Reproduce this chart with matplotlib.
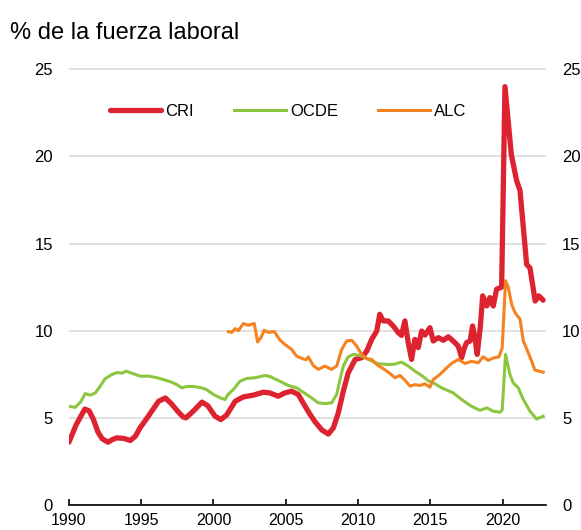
import matplotlib
matplotlib.use('Agg')
import matplotlib.pyplot as plt

# Tasa de desempleo, % de la fuerza laboral
cri_years = [1990.0, 1990.5, 1991.1, 1991.4, 1991.7, 1992.0, 1992.3, 1992.7, 1993.0, 1993.3,
             1993.8, 1994.25, 1994.6, 1994.9, 1995.5, 1996.2, 1996.67, 1997.1, 1997.5, 1997.9,
             1998.1, 1998.6, 1999.2, 1999.6, 2000.1, 2000.5, 2000.9, 2001.5, 2002.06, 2002.75,
             2003.45, 2003.9, 2004.48, 2004.94, 2005.4, 2005.86, 2006.2, 2006.6, 2007.0, 2007.5,
             2007.94, 2008.29, 2008.63, 2008.98, 2009.32, 2009.8, 2010.25, 2010.6, 2010.94, 2011.29,
             2011.5, 2011.74, 2012.09, 2012.43, 2012.78, 2013.0, 2013.24, 2013.47, 2013.7, 2013.93,
             2014.16, 2014.4, 2014.63, 2014.97, 2015.2, 2015.55, 2015.9, 2016.24, 2016.58, 2016.93,
             2017.16, 2017.35, 2017.5, 2017.75, 2017.92, 2018.1, 2018.24, 2018.46, 2018.62, 2018.9,
             2019.12, 2019.35, 2019.58, 2019.93, 2020.16, 2020.6, 2020.97, 2021.2, 2021.66, 2021.89,
             2022.25, 2022.5, 2022.8]
cri_values = [3.6, 4.6, 5.5, 5.4, 4.9, 4.2, 3.8, 3.6, 3.75, 3.85,
              3.82, 3.7, 3.95, 4.4, 5.1, 5.95, 6.14, 5.8, 5.4, 5.05,
              5.0, 5.38, 5.9, 5.7, 5.1, 4.9, 5.15, 5.95, 6.2, 6.3,
              6.47, 6.43, 6.24, 6.43, 6.53, 6.34, 5.86, 5.3, 4.8, 4.3,
              4.07, 4.42, 5.28, 6.53, 7.58, 8.35, 8.45, 8.83, 9.5, 9.98,
              10.94, 10.56, 10.56, 10.27, 9.89, 9.73, 10.56, 9.31, 8.35, 9.5,
              9.03, 9.98, 9.75, 10.17, 9.41, 9.6, 9.45, 9.65, 9.41, 9.12,
              8.45, 9.0, 9.31, 9.41, 10.27, 9.5, 8.64, 10.27, 12.0, 11.42,
              11.9, 11.42, 12.38, 12.5, 24.0, 20.1, 18.6, 18.05, 13.8, 13.6,
              11.7, 12.0, 11.75]

ocde_years = [1990.0, 1990.44, 1990.8, 1991.13, 1991.5, 1991.83, 1992.17, 1992.5, 1992.98, 1993.33,
              1993.67, 1993.95, 1994.36, 1994.94, 1995.52, 1996.1, 1996.67, 1997.13, 1997.48, 1997.82,
              1998.17, 1998.6, 1999.18, 1999.52, 2000.0, 2000.45, 2000.8, 2001.0, 2001.37, 2001.83,
              2002.3, 2002.87, 2003.56, 2003.9, 2004.6, 2005.17, 2005.75, 2006.2, 2006.79, 2007.25,
              2007.7, 2008.17, 2008.52, 2008.75, 2008.98, 2009.32, 2009.67, 2010.13, 2010.48, 2010.94,
              2011.4, 2012.09, 2012.55, 2013.0, 2013.47, 2013.93, 2014.4, 2014.9, 2015.2, 2015.78,
              2016.58, 2017.16, 2017.85, 2018.43, 2018.9, 2019.35, 2019.81, 2019.97, 2020.2, 2020.5,
              2020.73, 2021.08, 2021.43, 2021.89, 2022.35, 2022.8]
ocde_values = [5.66, 5.6, 5.9, 6.39, 6.3, 6.43, 6.82, 7.24, 7.49, 7.6,
               7.56, 7.68, 7.56, 7.39, 7.39, 7.3, 7.16, 7.04, 6.9, 6.72,
               6.8, 6.8, 6.72, 6.62, 6.34, 6.15, 6.05, 6.34, 6.62, 7.1,
               7.26, 7.3, 7.43, 7.37, 7.1, 6.86, 6.72, 6.47, 6.14, 5.86,
               5.82, 5.86, 6.34, 7.2, 7.97, 8.5, 8.64, 8.58, 8.45, 8.26,
               8.1, 8.06, 8.08, 8.2, 7.97, 7.68, 7.43, 7.1, 7.01, 6.72,
               6.43, 6.05, 5.66, 5.43, 5.57, 5.38, 5.32, 5.45, 8.64, 7.49,
               7.01, 6.72, 6.05, 5.38, 4.93, 5.09]

alc_years = [2001.03, 2001.26, 2001.5, 2001.72, 2002.06, 2002.4, 2002.82, 2003.05, 2003.28, 2003.51,
             2003.8, 2004.2, 2004.6, 2004.94, 2005.4, 2005.75, 2006.14, 2006.4, 2006.56, 2006.9,
             2007.25, 2007.7, 2008.17, 2008.52, 2008.87, 2009.21, 2009.56, 2009.9, 2010.25, 2010.6,
             2010.94, 2011.29, 2011.74, 2012.2, 2012.55, 2012.9, 2013.24, 2013.59, 2013.93, 2014.28,
             2014.63, 2014.97, 2015.2, 2015.66, 2016.13, 2016.47, 2016.93, 2017.39, 2017.85, 2018.31,
             2018.66, 2019.0, 2019.35, 2019.74, 2019.97, 2020.2, 2020.39, 2020.62, 2020.85, 2021.2,
             2021.43, 2021.77, 2022.0, 2022.23, 2022.8]
alc_values = [9.95, 9.9, 10.12, 10.0, 10.41, 10.31, 10.41, 9.35, 9.6, 10.02,
              9.9, 9.95, 9.46, 9.21, 8.93, 8.54, 8.4, 8.33, 8.5, 8.0,
              7.78, 7.97, 7.78, 7.97, 8.93, 9.41, 9.45, 9.12, 8.64, 8.39,
              8.35, 8.06, 7.82, 7.55, 7.3, 7.43, 7.16, 6.82, 6.9, 6.86,
              6.95, 6.76, 7.2, 7.49, 7.87, 8.12, 8.35, 8.12, 8.24, 8.16,
              8.5, 8.3, 8.43, 8.5, 9.02, 12.87, 12.48, 11.52, 11.04, 10.66,
              9.41, 8.74, 8.26, 7.74, 7.62]

y_ticks = [0, 5, 10, 15, 20, 25]
x_ticks = [1990, 1995, 2000, 2005, 2010, 2015, 2020]

plt.rcParams['font.family'] = ['Liberation Sans', 'DejaVu Sans']

fig = plt.figure(figsize=(5.81, 5.30), dpi=100)
ax = fig.add_axes([0.1186, 0.0472, 0.8212, 0.8271])

ax.plot(cri_years, cri_values, color='#DD2230', linewidth=3.8, label='CRI',
        solid_capstyle='round', solid_joinstyle='round', zorder=3)
ax.plot(ocde_years, ocde_values, color='#8CC63F', linewidth=2.2, label='OCDE',
        solid_joinstyle='round', zorder=4)
ax.plot(alc_years, alc_values, color='#F58220', linewidth=2.2, label='ALC',
        solid_joinstyle='round', zorder=5)

ax.set_xlim(1990, 2023)
ax.set_ylim(0, 25.15)
ax.set_xticks(x_ticks)
ax.set_yticks(y_ticks)

# rejilla horizontal gris, sin marco salvo el eje x
ax.yaxis.grid(True, color='#D9D9D9', linewidth=1.1)
ax.set_axisbelow(True)
for side in ['top', 'left', 'right']:
    ax.spines[side].set_visible(False)
ax.spines['bottom'].set_linewidth(1.2)
ax.spines['bottom'].set_zorder(6)

ax.tick_params(axis='x', direction='in', length=4, width=1.2, labelsize=11.5, pad=6)
ax.tick_params(axis='y', left=False, right=False, labelleft=True, labelright=True,
               length=0, labelsize=12, pad=11.5)

leg = ax.legend(loc='center', bbox_to_anchor=(0.459, 0.897), ncol=3, frameon=False,
                fontsize=12, handlelength=3.1, handletextpad=0.25, columnspacing=2.4)

fig.text(0.017, 0.926, '% de la fuerza laboral', fontsize=17, ha='left', va='baseline')

fig.savefig('out.png', dpi=100, facecolor='white')
